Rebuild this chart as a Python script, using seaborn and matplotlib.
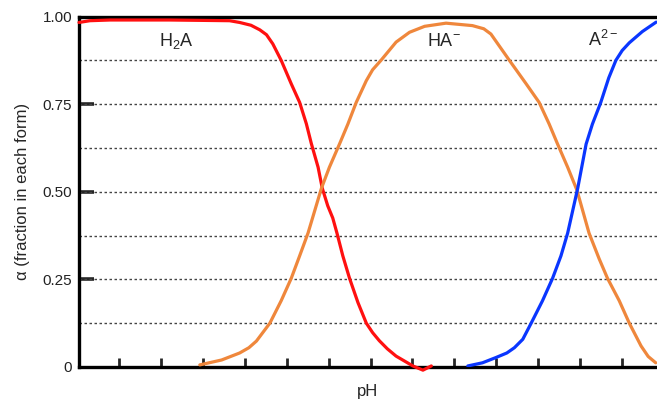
import numpy as np
import pandas as pd
import seaborn as sns
from matplotlib import pyplot as plt

# fraction curves (pH, alpha)
h2a_ph = [0.05, 0.31, 0.79, 2.21, 3.64, 3.88, 4.15, 4.36, 4.52, 4.67, 4.87, 5.11, 5.31, 5.47, 5.59,
          5.75, 5.85, 5.98, 6.10, 6.20, 6.34, 6.50, 6.70, 6.90, 7.05, 7.21, 7.40, 7.61, 8.01, 8.25, 8.45]
h2a_alpha = [0.983, 0.988, 0.99, 0.99, 0.988, 0.983, 0.975, 0.962, 0.948, 0.922, 0.875, 0.808, 0.755, 0.694, 0.637,
             0.57, 0.51, 0.46, 0.425, 0.382, 0.317, 0.253, 0.184, 0.125, 0.098, 0.075, 0.052, 0.031, 0.003, -0.009, 0.003]

ha_ph = [2.93, 3.45, 3.88, 4.10, 4.28, 4.60, 4.87, 5.11, 5.31, 5.51, 5.67, 5.83, 6.02, 6.26, 6.46,
         6.66, 6.90, 7.05, 7.25, 7.61, 7.93, 8.29, 8.80, 9.43, 9.70, 9.87, 10.31, 10.71, 11.02, 11.26,
         11.46, 11.70, 11.92, 12.21, 12.45, 12.65, 12.93, 13.17, 13.45, 13.62, 13.80]
ha_alpha = [0.006, 0.02, 0.04, 0.055, 0.074, 0.125, 0.189, 0.253, 0.317, 0.382, 0.446, 0.51, 0.57, 0.636, 0.693,
            0.755, 0.817, 0.848, 0.875, 0.927, 0.955, 0.972, 0.981, 0.974, 0.965, 0.95, 0.875, 0.808, 0.755, 0.693,
            0.636, 0.57, 0.505, 0.382, 0.309, 0.253, 0.189, 0.125, 0.06, 0.03, 0.012]

a2_ph = [9.32, 9.67, 9.99, 10.25, 10.43, 10.63, 10.83, 11.10, 11.34, 11.54, 11.70, 11.82, 11.94,
         12.14, 12.29, 12.49, 12.68, 12.85, 13.00, 13.17, 13.48, 13.81]
a2_alpha = [0.003, 0.012, 0.027, 0.04, 0.055, 0.079, 0.125, 0.189, 0.253, 0.317, 0.382, 0.446, 0.51,
            0.636, 0.693, 0.755, 0.825, 0.875, 0.903, 0.925, 0.957, 0.984]

y_ticks = [0, 0.25, 0.5, 0.75, 1.0]
y_ticklabels = ['0', '0.25', '0.50', '0.75', '1.00']
grid_levels = [0.125, 0.25, 0.375, 0.5, 0.625, 0.75, 0.875]
x_ticks = list(range(1, 14))

sns.set_style('white')
plt.rcParams['font.family'] = ['Liberation Sans', 'DejaVu Sans']
plt.rcParams['mathtext.default'] = 'regular'

fig = plt.figure(figsize=(6.57, 4.04), dpi=100)
ax = fig.add_axes([79 / 657, (404 - 367) / 404, (657 - 79) / 657, (367 - 16.5) / 404])

for lvl in grid_levels:
    ax.axhline(lvl, color='#444444', lw=1.0, linestyle=(0, (1.8, 1.8)), zorder=1)

line_kw = dict(lw=2.3, sort=False, estimator=None, zorder=3,
               solid_joinstyle='round', solid_capstyle='round')
sns.lineplot(x=h2a_ph, y=h2a_alpha, ax=ax, color='#ff1010', clip_on=False, **line_kw)
sns.lineplot(x=ha_ph, y=ha_alpha, ax=ax, color='#ef873c', **line_kw)
sns.lineplot(x=a2_ph, y=a2_alpha, ax=ax, color='#0a36ff', **line_kw)

ax.set_xlim(0.05, 13.83)
ax.set_ylim(0, 1.0)

for side in ['left', 'bottom', 'top']:
    ax.spines[side].set_linewidth(2.4)
    ax.spines[side].set_color('black')
ax.spines['right'].set_visible(False)

ax.set_yticks(y_ticks)
ax.set_yticklabels(y_ticklabels, fontsize=11, color='#222222')
ax.tick_params(axis='y', direction='in', length=10.5, width=2.6, pad=5, left=True)
# the end ticks sit on the spines, hide them
yt = ax.yaxis.get_major_ticks()
yt[0].tick1line.set_visible(False)
yt[-1].tick1line.set_visible(False)
ax.set_xticks(x_ticks)
ax.set_xticklabels([])
ax.tick_params(axis='x', direction='in', length=6.5, width=2.0, bottom=True)

ax.set_ylabel('α (fraction in each form)', fontsize=12, labelpad=9)
ax.set_xlabel('pH', fontsize=12, labelpad=9)

ax.text(2.38, 0.931, 'H$_2$A', fontsize=13, ha='center', va='center')
ax.text(8.76, 0.929, 'HA$^{-}$', fontsize=13, ha='center', va='center')
ax.text(12.55, 0.934, 'A$^{2-}$', fontsize=13, ha='center', va='center')

fig.savefig('out.png', dpi=100)
